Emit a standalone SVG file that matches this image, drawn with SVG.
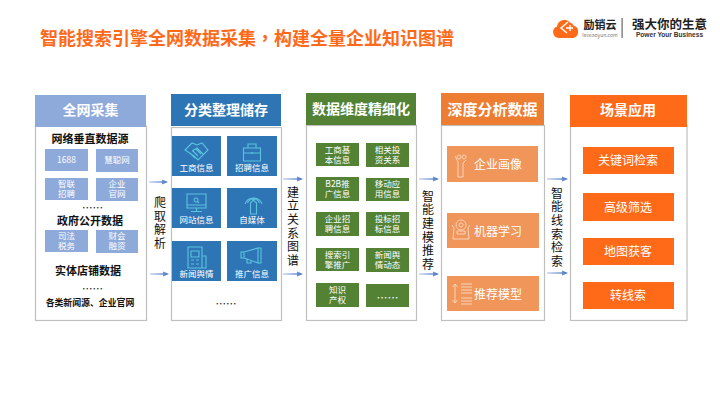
<svg xmlns="http://www.w3.org/2000/svg" width="720" height="405" viewBox="0 0 720 405">
<style>
text{font-family:"Noto Sans CJK SC","Liberation Sans",sans-serif;text-anchor:middle}
.box{fill:#fff;stroke:#BFBFBF;stroke-width:1.2}
.h{font-size:14px;font-weight:700;fill:#fff}
.sub{font-size:11px;font-weight:700;fill:#111}
.t{font-size:8.500px;fill:#fff}
.t2{font-size:12px;fill:#fff}
.t3{font-size:12px;fill:#fff}
.v{font-size:12px;fill:#111;writing-mode:vertical-rl;text-anchor:start;letter-spacing:1.700px}
.dots{font-size:10.500px;fill:#111}
.a{fill:url(#ag)}
.ic{fill:none;stroke:#5CC3DE;stroke-width:1.100}
.io{fill:none;stroke:#FBE3D2;stroke-width:.8}
.b1{fill:#8EAADB}.b2{fill:#2E75B6}.b3{fill:#548235}.b4{fill:#F0965A}.b5{fill:#FF6A19}
</style>
<defs><linearGradient id="ag"><stop offset="0" stop-color="#C9D6EF"/><stop offset="1" stop-color="#4472C4"/></linearGradient></defs>
<rect width="720" height="405" fill="#fff"/>
<text id="title" x="247" y="44.500" style="font-size:18px;font-weight:700;fill:#FF6A19">智能搜索引擎全网数据采集<tspan style="font-family:'Noto Sans CJK TC',sans-serif">，</tspan>构建全量企业知识图谱</text>

<g id="logo">
<path d="M559 38a6 6 0 0 1-2-11.600a7.500 7.500 0 0 1 13-4a5 5 0 0 1 3.500 3a6.500 6.500 0 0 1-.5 12.600z" fill="#FF6A19"/>
<path d="M568 22l-7 6 6 5M566 28h7M570 25v6" fill="none" stroke="#fff" stroke-width="1.400"/>
<text x="600" y="29" style="font-size:11px;font-weight:700;fill:#222">励销云</text>
<text x="600" y="36.500" style="font-size:5px;fill:#777">leixiaoyun.com</text>
<rect x="621.500" y="18" width="1.200" height="20" fill="#666"/>
<text x="669.500" y="29" style="font-size:12.500px;font-weight:700;fill:#222">强大你的生意</text>
<text x="669.500" y="37" style="font-size:6.600px;font-weight:700;fill:#333;font-family:'Liberation Sans',sans-serif">Power Your Business</text>
</g>

<g id="connectors">
<path class="a" d="M149 181.300H162V179.500L168 182L162 184.500V182.700H149z"/>
<path class="a" d="M150 273.300H163V271.500L169 274L163 276.500V274.700H150z"/>
<path class="a" d="M283 178.300H297V176.500L303 179L297 181.500V179.700H283z"/>
<path class="a" d="M283 273.300H297V271.500L303 274L297 276.500V274.700H283z"/>
<path class="a" d="M419 178.300H433V176.500L439 179L433 181.500V179.700H419z"/>
<path class="a" d="M419 273.300H433V271.500L439 274L433 276.500V274.700H419z"/>
<path class="a" d="M547 178.300H562V176.500L568 179L562 181.500V179.700H547z"/>
<path class="a" d="M547 272.300H562V270.500L568 273L562 275.500V273.700H547z"/>
</g>

<text id="label-crawl" class="v" x="160" y="196.300">爬取解析</text>
<text id="label-graph" class="v" x="293" y="186">建立关系图谱</text>
<text id="label-model" class="v" x="428" y="190">智能建模推荐</text>
<text id="label-search" class="v" x="557" y="187">智能线索检索</text>

<g id="node-collect">
<rect class="box" x="35.500" y="126" width="111" height="194.500"/>
<rect class="b1" x="35" y="95" width="111" height="32"/>
<text class="h" x="90.500" y="115">全网采集</text>
<text class="sub" x="90" y="143">网络垂直数据源</text>
<rect class="b1" x="45" y="149" width="43" height="22"/><text class="t" x="66.500" y="163">1688</text>
<rect class="b1" x="96" y="149" width="42" height="23"/><text class="t" x="117" y="163">慧聪网</text>
<rect class="b1" x="45" y="178" width="43" height="22"/><text class="t"><tspan x="66.500" y="187">智联</tspan><tspan x="66.500" y="197">招聘</tspan></text>
<rect class="b1" x="96" y="178" width="42" height="23"/><text class="t"><tspan x="117" y="187">企业</tspan><tspan x="117" y="197">官网</tspan></text>
<text class="dots" x="92.500" y="212">……</text>
<text class="sub" x="90" y="225">政府公开数据</text>
<rect class="b1" x="45" y="230" width="43" height="22"/><text class="t"><tspan x="66.500" y="239">司法</tspan><tspan x="66.500" y="249">税务</tspan></text>
<rect class="b1" x="96" y="230" width="42" height="23"/><text class="t"><tspan x="117" y="239">财会</tspan><tspan x="117" y="249">融资</tspan></text>
<text class="sub" x="88" y="275">实体店铺数据</text>
<text class="dots" x="92.500" y="293">……</text>
<text x="90" y="306" style="font-size:8.900px;font-weight:700;fill:#111">各类新闻源、企业官网</text>
</g>

<g id="node-store">
<rect class="box" x="171.500" y="127.500" width="110" height="193"/>
<rect class="b2" x="171" y="94" width="110" height="32"/>
<text class="h" x="226" y="115">分类整理储存</text>
<rect class="b2" x="172" y="136" width="49" height="40"/>
<path class="ic" d="M185 150l7-7 5 2 5-2 6 7-10 10-4-4zM192 151l5-3 6 6M190 153l5 5M193 151l5 5M196 149l5 5"/>
<text class="t" x="196.500" y="171">工商信息</text>
<rect class="b2" x="227" y="136" width="50" height="40"/>
<path class="ic" d="M243.500 148h17v13h-17zM248 148v-4h8v4M243.500 153h17M252 152v2"/>
<text class="t" x="252" y="171">招聘信息</text>
<rect class="b2" x="172" y="188" width="49" height="40"/>
<path class="ic" d="M187 194h19v14h-19zM187 205h19M196.500 208v3M191 211.500h11M196 198a2 2 0 1 0 .1 0M197.500 201.500l1.500 1.500"/>
<text class="t" x="196.500" y="223">网站信息</text>
<rect class="b2" x="227" y="188" width="50" height="40"/>
<path class="ic" d="M250.500 214v-11l3-3 3 3v11zM253.500 200v-2M247.500 203a6.500 6.500 0 0 1 12 0M245 204a9 9 0 0 1 17 0"/>
<text class="t" x="252" y="223">自媒体</text>
<rect class="b2" x="172" y="241" width="49" height="40"/>
<path class="ic" d="M188 247h14v21h-14zM202 256h4v12h-4M191 251h8v6h-8zM191 260h3M196 260h3M191 264h3M196 264h3"/>
<text class="t" x="196.500" y="277">新闻舆情</text>
<rect class="b2" x="227" y="241" width="50" height="40"/>
<path class="ic" d="M241 252v6h3l14 5v-15l-14 4zM244 252v6M258 248h3v15h-3M247 259v4h4v-2"/>
<text class="t" x="252" y="277">推广信息</text>
<text class="dots" x="226" y="308">……</text>
</g>

<g id="node-refine">
<rect class="box" x="306.500" y="125.500" width="110" height="195"/>
<rect class="b3" x="306" y="93" width="110" height="32"/>
<text class="h" x="361" y="114">数据维度精细化</text>
<rect class="b3" x="316" y="143" width="43" height="23"/><text class="t"><tspan x="337.500" y="152.500">工商基</tspan><tspan x="337.500" y="162.500">本信息</tspan></text>
<rect class="b3" x="366" y="143" width="43" height="24"/><text class="t"><tspan x="387.500" y="152.500">相关投</tspan><tspan x="387.500" y="162.500">资关系</tspan></text>
<rect class="b3" x="316" y="177" width="43" height="24"/><text class="t"><tspan x="337.500" y="187">B2B推</tspan><tspan x="337.500" y="197">广信息</tspan></text>
<rect class="b3" x="366" y="178" width="43" height="23"/><text class="t"><tspan x="387.500" y="187">移动应</tspan><tspan x="387.500" y="197">用信息</tspan></text>
<rect class="b3" x="316" y="212" width="43" height="24"/><text class="t"><tspan x="337.500" y="222">企业招</tspan><tspan x="337.500" y="232">聘信息</tspan></text>
<rect class="b3" x="366" y="212" width="43" height="24"/><text class="t"><tspan x="387.500" y="222">投标招</tspan><tspan x="387.500" y="232">标信息</tspan></text>
<rect class="b3" x="316" y="248" width="43" height="23"/><text class="t"><tspan x="337.500" y="258">搜索引</tspan><tspan x="337.500" y="268">擎推广</tspan></text>
<rect class="b3" x="366" y="248" width="43" height="24"/><text class="t"><tspan x="387.500" y="258">新闻舆</tspan><tspan x="387.500" y="268">情动态</tspan></text>
<rect class="b3" x="316" y="283" width="43" height="24"/><text class="t"><tspan x="337.500" y="293">知识</tspan><tspan x="337.500" y="303">产权</tspan></text>
<rect class="b3" x="366" y="284" width="43" height="23"/><text x="387.500" y="301.500" style="font-size:11px;fill:#fff">……</text>
</g>

<g id="node-analysis">
<rect class="box" x="441.500" y="125.500" width="103" height="195"/>
<rect fill="#ED7D31" x="441" y="93" width="103" height="32"/>
<text x="492.500" y="114.500" style="font-size:15px;font-weight:700;fill:#fff">深度分析数据</text>
<rect class="b4" x="447" y="146" width="91" height="36"/>
<path class="io" d="M455 156l3 6v15h5v-14l3-3M459 155a2 2 0 1 0 .1 0M464 155a2 2 0 1 0 .1 0"/>
<text class="t3" x="498" y="168.500">企业画像</text>
<rect class="b4" x="447" y="213" width="92" height="35"/>
<path class="io" d="M452 225l2 3-1 11h16l-1-11 2-3M461 220a5 5 0 1 0 .1 0M461 223a2 2 0 1 0 .1 0M457 231h8v3h-8z"/>
<text class="t3" x="498" y="235.500">机器学习</text>
<rect class="b4" x="447" y="276" width="92" height="35"/>
<path class="io" d="M455 284v19M452.500 287l2.500-3 2.500 3M452.500 300l2.500 3 2.500-3M461 284h11M461 287h11M461 290h11M461 293h11M461 298h11M461 301h11M461 304h11"/>
<text class="t3" x="498" y="298.500">推荐模型</text>
</g>

<g id="node-apply">
<rect class="box" x="570.500" y="125.500" width="116.500" height="195"/>
<rect class="b5" x="570" y="95" width="117" height="32"/>
<text class="h" x="628" y="115">场景应用</text>
<rect class="b5" x="583" y="147" width="91" height="27"/><text class="t2" x="628" y="165">关键词检索</text>
<rect class="b5" x="583" y="193" width="91" height="28"/><text class="t2" x="628" y="212">高级筛选</text>
<rect class="b5" x="583" y="238" width="91" height="27"/><text class="t2" x="628" y="256">地图获客</text>
<rect class="b5" x="583" y="282" width="91" height="27"/><text class="t2" x="628" y="300">转线索</text>
</g>
</svg>
